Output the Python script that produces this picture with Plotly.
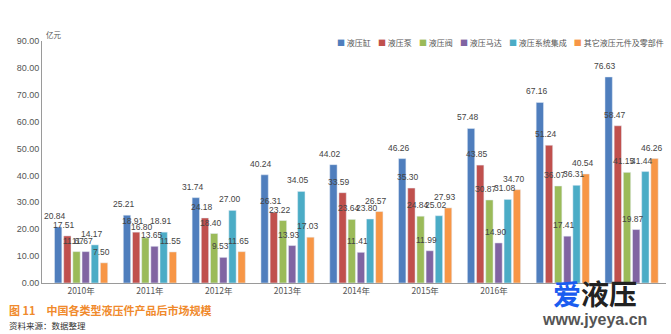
import plotly.graph_objects as go

years = ["2010年", "2011年", "2012年", "2013年", "2014年", "2015年", "2016年", "2017年", "2018年"]
names = ["液压缸", "液压泵", "液压阀", "液压马达", "液压系统集成", "其它液压元件及零部件"]
colors = ["#4F7EBD", "#C0504D", "#9BBB59", "#8064A2", "#4BACC6", "#F79646"]

cylinder = [20.84, 25.21, 31.74, 40.24, 44.02, 46.26, 57.48, 67.16, 76.63]
pump = [17.51, 18.91, 24.18, 26.31, 33.59, 35.30, 43.85, 51.24, 58.47]
valve = [11.67, 16.80, 18.40, 23.22, 23.64, 24.84, 30.87, 36.07, 41.15]
motor = [11.67, 13.65, 9.53, 13.93, 11.41, 11.99, 14.90, 17.41, 19.87]
system = [14.17, 18.91, 27.00, 34.05, 23.80, 25.02, 31.08, 36.31, 41.44]
other = [7.50, 11.55, 11.65, 17.03, 26.57, 27.93, 34.70, 40.54, 46.26]
series = [cylinder, pump, valve, motor, system, other]

font_family = "Liberation Sans, Noto Sans CJK SC, sans-serif"

# geometry of grouped bars (used only to offset value labels onto their bars)
plot_w = 671 - 42 - 5
cat_w = plot_w / len(years)
bargap, bargroupgap = 0.2, 0.2
slot = cat_w * (1 - bargap) / len(series)

fig = go.Figure()
annotations = []
for i, (name, color, vals) in enumerate(zip(names, colors, series)):
    fig.add_trace(go.Bar(
        x=years, y=vals, name=name, marker_color=color, showlegend=False,
    ))
    for yr, v in zip(years, vals):
        annotations.append(dict(
            x=yr, y=v, xref="x", yref="y", text=f"{v:.2f}", showarrow=False,
            xanchor="center", yanchor="middle",
            xshift=(i - (len(series) - 1) / 2) * slot - 3, yshift=11,
            font=dict(size=8.5, color="#444444", family=font_family),
        ))

legend_text = "&nbsp;&nbsp;&nbsp;&nbsp;".join(
    f"<span style='color:{c}'>■</span> {n}" for n, c in zip(names, colors)
)

annotations += [
    dict(text=legend_text, x=1.0, y=0.992, xref="paper", yref="paper",
         xanchor="right", yanchor="middle", showarrow=False,
         font=dict(size=8, color="#555555", family="Noto Sans CJK SC")),
    dict(text="亿元", x=0.004, y=1.025, xref="paper", yref="paper",
         xanchor="left", yanchor="middle", showarrow=False,
         font=dict(size=7.5, color="#555555", family="Noto Sans CJK SC")),
    dict(text="<b>图 11　中国各类型液压件产品后市场规模</b>", x=-0.056, y=-0.112,
         xref="paper", yref="paper", xanchor="left", yanchor="middle", showarrow=False,
         font=dict(size=11, color="#F08A2C", family="Noto Sans CJK SC")),
    dict(text="资料来源：数据整理", x=-0.056, y=-0.175,
         xref="paper", yref="paper", xanchor="left", yanchor="middle", showarrow=False,
         font=dict(size=8.5, color="#333333", family="Noto Sans CJK SC")),
    dict(text="<b><span style='color:#1A5CF0'>爱</span>液压</b>", x=0.887, y=-0.04,
         xref="paper", yref="paper", xanchor="center", yanchor="middle", showarrow=False,
         font=dict(size=28, color="#222222", family="Noto Sans CJK SC")),
    dict(text="<b>www.jyeya.cn</b>", x=0.885, y=-0.15,
         xref="paper", yref="paper", xanchor="center", yanchor="middle", showarrow=False,
         font=dict(size=16, color="#555555", family="Liberation Sans")),
]

fig.update_layout(
    width=671, height=334,
    margin=dict(l=42, r=5, t=41, b=51),
    paper_bgcolor="white", plot_bgcolor="white",
    barmode="group", bargap=bargap, bargroupgap=bargroupgap,
    font=dict(family=font_family, color="#555555"),
    annotations=annotations,
)
fig.update_xaxes(
    showgrid=False, showline=True, linecolor="#9A9A9A", linewidth=1,
    ticks="", tickvals=years[:7], ticktext=years[:7],
    tickfont=dict(size=8.5, color="#555555", family="Noto Sans CJK SC"),
)
fig.update_yaxes(
    range=[0, 90], dtick=10, tickformat=".2f", showgrid=False,
    showline=True, linecolor="#9A9A9A", linewidth=1, ticks="",
    zeroline=False,
    tickfont=dict(size=9, color="#555555"),
)

fig.write_html("out.html")
